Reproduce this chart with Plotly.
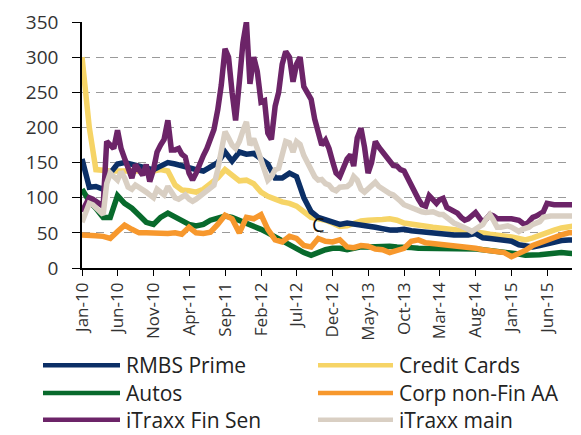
import pandas as pd
import plotly.graph_objects as go

# ---------------- data ----------------
# semi-monthly observation dates (1st and 16th), Jan-2010 .. Sep-2015
semi_dates = [pd.Timestamp(y, m, d) for y in range(2010, 2016)
              for m in range(1, 13) for d in (1, 16)][:138]
# monthly observation dates, Jan-2010 .. Oct-2015
month_dates = list(pd.date_range("2010-01-01", periods=70, freq="MS"))

itraxx_fin_sen = [
    80, 90, 100, 98, 95, 92, 88, 180, 175, 170, 196, 170, 156, 140, 128, 147, 138, 132, 147, 123, 140, 165, 175, 183,
    210, 168, 168, 170, 162, 158, 135, 125, 135, 150, 160, 170, 185, 197, 225, 260, 312, 300, 250, 210, 265, 320, 350, 262,
    300, 280, 236, 238, 192, 183, 230, 250, 290, 308, 300, 265, 290, 300, 258, 250, 240, 212, 195, 175, 182, 170, 152, 135,
    130, 142, 155, 161, 145, 185, 199, 172, 135, 150, 180, 172, 165, 160, 152, 146, 145, 140, 138, 128, 115, 108, 98, 90,
    88, 103, 97, 92, 97, 99, 86, 84, 82, 78, 72, 68, 70, 74, 79, 72, 65, 70, 76, 74, 70, 70, 71, 70,
    70, 69, 68, 64, 61, 66, 72, 74, 77, 80, 92, 90, 90, 90, 90, 90, 90, 90,
]
itraxx_main = [
    65, 80, 92, 90, 85, 82, 76, 120, 135, 130, 125, 137, 128, 115, 112, 118, 115, 112, 108, 104, 100, 112, 108, 104,
    116, 108, 100, 98, 102, 104, 98, 95, 98, 102, 104, 108, 112, 118, 140, 165, 194, 185, 175, 170, 180, 195, 208, 175,
    184, 170, 155, 140, 125, 130, 140, 142, 165, 180, 178, 165, 180, 176, 160, 150, 138, 130, 125, 126, 120, 118, 112, 110,
    115, 115, 116, 120, 130, 125, 112, 108, 112, 118, 122, 116, 112, 110, 106, 104, 98, 95, 90, 88, 86, 84, 81, 80,
    79, 80, 80, 78, 76, 76, 72, 67, 64, 62, 60, 58, 55, 52, 56, 60, 62, 70, 76, 68, 58, 58, 60, 60,
    58, 54, 52, 55, 56, 58, 62, 65, 66, 72, 74, 74, 74, 74, 74, 74, 74, 74,
]
rmbs_prime = [
    155, 115, 116, 112, 135, 148, 150, 148, 145, 142, 140, 145,
    150, 148, 145, 142, 140, 138, 145, 150, 165, 152, 165, 162,
    163, 156, 148, 128, 128, 135, 130, 100, 80, 72, 68, 66,
    62, 64, 63, 61, 60, 58, 56, 54, 54, 55, 53, 52,
    50, 49, 48, 48, 47, 47, 47, 49, 43, 42, 41, 40,
    38, 33, 31, 30, 32, 35, 37, 39, 40, 40,
]
credit_cards = [
    300, 200, 140, 138, 138, 138, 138, 138, 138, 138, 138, 140,
    138, 118, 111, 110, 108, 112, 120, 128, 140, 132, 124, 125,
    120, 108, 102, 98, 94, 92, 88, 80, 72, 70, 68, 64,
    59, 60, 64, 67, 68, 68, 69, 70, 68, 64, 62, 60,
    59, 58, 57, 56, 54, 54, 53, 52, 50, 48, 47, 46,
    44, 42, 40, 43, 47, 50, 54, 57, 59, 60,
]
autos = [
    112, 95, 85, 72, 72, 103, 92, 85, 75, 65, 62, 72,
    78, 72, 66, 62, 60, 62, 68, 72, 74, 72, 68, 64,
    58, 55, 50, 44, 40, 32, 26, 22, 18, 22, 26, 28,
    28, 26, 28, 30, 30, 31, 31, 31, 30, 30, 29, 28,
    28, 28, 28, 28, 28, 28, 28, 27, 26, 25, 24, 23,
    22, 20, 18, 18, 19, 20, 21, 22, 21, 20,
]
corp_nonfin_aa = [
    47, 47, 46, 45, 42, 52, 61, 55, 50, 50, 49, 49,
    49, 50, 48, 58, 50, 49, 51, 62, 75, 70, 50, 72,
    70, 76, 55, 40, 37, 45, 42, 32, 30, 42, 38, 37,
    40, 30, 29, 32, 31, 27, 26, 22, 25, 28, 38, 40,
    36, 35, 34, 33, 32, 30, 29, 28, 26, 25, 24, 22,
    16, 20, 25, 32, 36, 40, 43, 47, 50, 50,
]

tick_dates = list(pd.date_range("2010-01-01", periods=14, freq="5MS"))
tick_labels = ["Jan-10", "Jun-10", "Nov-10", "Apr-11", "Sep-11", "Feb-12", "Jul-12",
               "Dec-12", "May-13", "Oct-13", "Mar-14", "Aug-14", "Jan-15", "Jun-15"]
y_ticks = [0, 50, 100, 150, 200, 250, 300, 350]

# ---------------- styles ----------------
COL = {
    "RMBS Prime": "#0b2f66",
    "Credit Cards": "#f6d466",
    "Autos": "#086a2c",
    "Corp non-Fin AA": "#f7982d",
    "iTraxx Fin Sen": "#6c2468",
    "iTraxx main": "#d9cfc3",
}
FONT = "Open Sans"

series = {
    "RMBS Prime": (month_dates, rmbs_prime),
    "Credit Cards": (month_dates, credit_cards),
    "Autos": (month_dates, autos),
    "Corp non-Fin AA": (month_dates, corp_nonfin_aa),
    "iTraxx Fin Sen": (semi_dates, itraxx_fin_sen),
    "iTraxx main": (semi_dates, itraxx_main),
}
draw_order = ["Credit Cards", "RMBS Prime", "Autos", "Corp non-Fin AA", "iTraxx Fin Sen", "iTraxx main"]
legend_order = ["RMBS Prime", "Credit Cards", "Autos", "Corp non-Fin AA", "iTraxx Fin Sen", "iTraxx main"]

fig = go.Figure()
for name in draw_order:
    xs, ys = series[name]
    fig.add_trace(go.Scatter(x=xs, y=ys, mode="lines", name=name,
                             line=dict(color=COL[name], width=5.5), showlegend=False))

# "C" marker text present in the original
fig.add_annotation(x="2012-10-04", y=62, text="C", showarrow=False,
                   font=dict(family=FONT, size=20, color="#111111"))

# manual legend (two columns, three rows) placed below plot
L, R, T, B = 82, 572, 20, 268
W, H = R - L, B - T
col_px = [(43, 120, 124), (318, 393, 397)]
row_px = [366, 394, 421]
for i, name in enumerate(legend_order):
    c = i % 2
    r = i // 2
    x0, x1, xt = col_px[c]
    yp = (B - row_px[r]) / H
    fig.add_shape(type="line", xref="paper", yref="paper",
                  x0=(x0 - L) / W, x1=(x1 - L) / W, y0=yp, y1=yp,
                  line=dict(color=COL[name], width=4.5))
    fig.add_annotation(xref="paper", yref="paper", x=(xt - L) / W, y=yp,
                       xanchor="left", yanchor="middle", text=name, showarrow=False,
                       font=dict(family=FONT, size=21, color="#222222"))

fig.update_layout(
    width=581, height=435,
    margin=dict(l=L, r=581 - R, t=T, b=435 - B),
    paper_bgcolor="white", plot_bgcolor="white",
    showlegend=False,
    font=dict(family=FONT, color="#333333"),
)
fig.update_xaxes(
    type="date", range=["2010-01-01", "2015-09-15"],
    tickvals=tick_dates, ticktext=tick_labels, tickangle=-90,
    ticks="outside", ticklen=6, tickcolor="black", tickwidth=1.2,
    showline=True, linecolor="black", linewidth=1.5,
    showgrid=False, zeroline=False,
    tickfont=dict(family=FONT, size=17, color="#333333"),
)
fig.update_yaxes(
    range=[0, 350], tickvals=y_ticks,
    ticks="outside", ticklen=8, tickcolor="black", tickwidth=1.2,
    showline=True, linecolor="black", linewidth=1.5,
    showgrid=True, gridcolor="#9a9a9a", gridwidth=1, griddash="8px,6px",
    zeroline=False, ticklabelstandoff=10,
    tickfont=dict(family=FONT, size=19, color="#333333"),
)

fig.write_html("out.html", config={"displayModeBar": False},
               post_script="document.body.style.margin='0';document.body.style.overflow='hidden';")
